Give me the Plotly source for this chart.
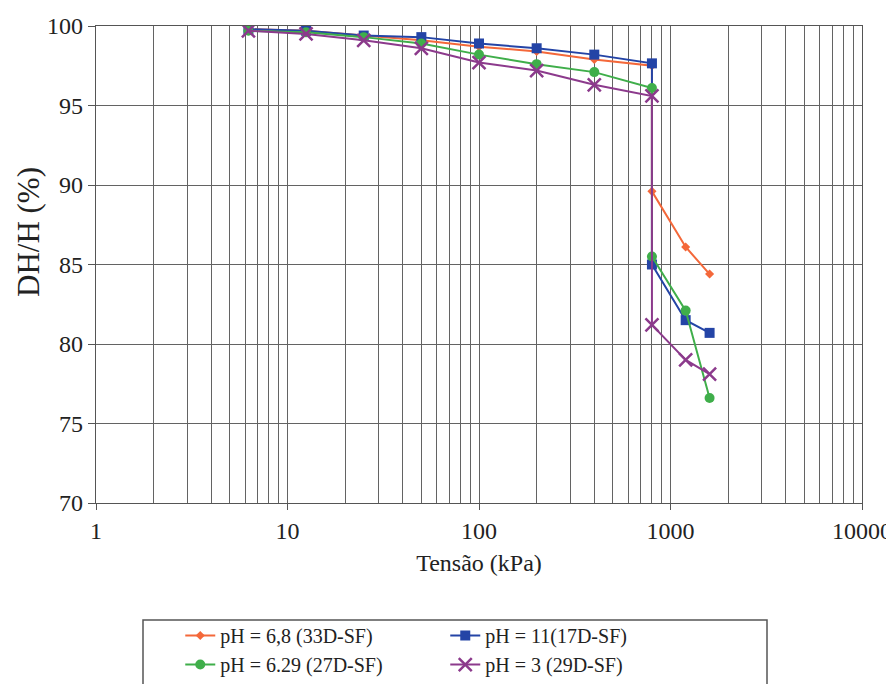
import plotly.graph_objects as go

tension = [6.25, 12.5, 25, 50, 100, 200, 400, 800, 800, 1200, 1600]
ph68 = [99.8, 99.7, 99.4, 99.1, 98.7, 98.4, 97.9, 97.5, 89.6, 86.1, 84.4]
ph11 = [99.8, 99.7, 99.4, 99.3, 98.9, 98.6, 98.2, 97.65, 85.0, 81.5, 80.7]
ph629 = [99.7, 99.6, 99.3, 98.9, 98.2, 97.6, 97.1, 96.1, 85.5, 82.1, 76.6]
ph3 = [99.7, 99.5, 99.1, 98.6, 97.7, 97.2, 96.3, 95.6, 81.2, 79.0, 78.1]

names = ["pH = 6,8 (33D-SF)", "pH = 11(17D-SF)", "pH = 6.29 (27D-SF)", "pH = 3 (29D-SF)"]
series = [ph68, ph11, ph629, ph3]
colors = ["#f4683a", "#2444a6", "#3fae4a", "#8c3a8c"]
symbols = ["diamond", "square", "circle", "x-thin-open"]
msizes = [7, 10, 10, 13]

FONT = "Liberation Serif, Times New Roman, serif"

fig = go.Figure()
for nm, ys, c, s, ms in zip(names, series, colors, symbols, msizes):
    marker = dict(color=c, size=ms, symbol=s)
    if s == "x-thin-open":
        marker["line"] = dict(color=c, width=2.5)
    fig.add_trace(go.Scatter(
        x=tension, y=ys, name=nm, mode="lines+markers",
        line=dict(color=c, width=2), marker=marker,
    ))

GRID = "#636363"
TXT = "#222222"
# page has an 8px body margin: figure is 886x676, plot area at page x 96..862, y 26..503
fig.update_layout(
    width=886, height=676,
    margin=dict(l=88, r=32, t=18, b=181, autoexpand=False),
    plot_bgcolor="white", paper_bgcolor="white",
    font=dict(family=FONT, color=TXT),
    showlegend=True,
    legend=dict(
        orientation="h", x=0.11, y=-0.237, xanchor="left", yanchor="top",
        font=dict(family=FONT, size=20, color=TXT),
        entrywidth=220, entrywidthmode="pixels",
        bgcolor="rgba(0,0,0,0)", borderwidth=0,
        tracegroupgap=0,
    ),
    xaxis=dict(
        type="log", range=[0, 4], dtick=1, tickformat="d",
        automargin=False,
        showgrid=True, gridcolor=GRID, gridwidth=1.3,
        minor=dict(dtick="D1", showgrid=True, gridcolor=GRID, gridwidth=1.3, ticks=""),
        showline=True, linecolor="#555555", linewidth=1.3, mirror=True,
        ticks="outside", ticklen=6, tickcolor="#555555",
        tickfont=dict(family=FONT, size=24, color=TXT),
        title=dict(text="Tensão (kPa)", font=dict(family=FONT, size=24, color=TXT),
                   standoff=11),
        zeroline=False,
    ),
    yaxis=dict(
        range=[70, 100], dtick=5,
        automargin=False,
        showgrid=True, gridcolor=GRID, gridwidth=1.3,
        showline=True, linecolor="#555555", linewidth=1.3, mirror=True,
        ticks="outside", ticklen=7, tickcolor="#555555",
        tickfont=dict(family=FONT, size=24, color=TXT),
        zeroline=False,
    ),
)

# y-axis title placed as in the reference (slightly above centre)
fig.add_annotation(text="DH/H (%)", textangle=-90, xref="paper", yref="paper",
                   x=(28 - 96) / 766, y=(503 - 232) / 477, xanchor="center", yanchor="middle",
                   showarrow=False, font=dict(family=FONT, size=31, color=TXT))

# legend frame
fig.add_shape(type="rect", xref="paper", yref="paper",
              x0=(143 - 96) / 766, x1=(767 - 96) / 766,
              y0=(503 - 700) / 477, y1=(503 - 620) / 477,
              line=dict(color="#555555", width=1.5), fillcolor="rgba(0,0,0,0)")

fig.write_html("out.html")
